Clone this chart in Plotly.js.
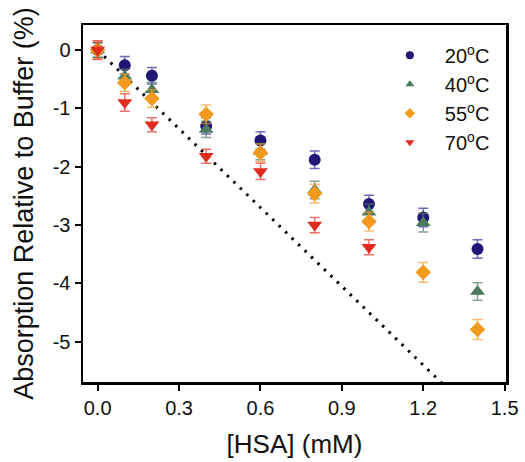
<!DOCTYPE html>
<html>
<head>
<meta charset="utf-8">
<script src="https://cdn.plot.ly/plotly-3.0.1.min.js"></script>
<style>html,body{margin:0;padding:0;background:#fff;}#chart{width:525px;height:462px;}</style>
</head>
<body>
<div id="chart"></div>
<script>
// HSA concentration (mM)
const xConc = [0, 0.1, 0.2, 0.4, 0.6, 0.8, 1.0, 1.2, 1.4];
const xConc70 = [0, 0.1, 0.2, 0.4, 0.6, 0.8, 1.0];

// Absorption relative to buffer (%)
const y20 = [0.0, -0.26, -0.44, -1.30, -1.55, -1.88, -2.64, -2.87, -3.41];
const e20 = [0.13, 0.15, 0.14, 0.14, 0.15, 0.15, 0.15, 0.16, 0.16];
const y40 = [0.0, -0.45, -0.68, -1.36, -1.74, -2.40, -2.78, -2.96, -4.14];
const e40 = [0.12, 0.12, 0.13, 0.14, 0.14, 0.15, 0.14, 0.16, 0.15];
const y55 = [0.0, -0.56, -0.83, -1.10, -1.76, -2.46, -2.94, -3.81, -4.79];
const e55 = [0.15, 0.15, 0.15, 0.16, 0.15, 0.16, 0.16, 0.17, 0.17];
const y70 = [0.0, -0.90, -1.28, -1.82, -2.08, -3.00, -3.38];
const e70 = [0.16, 0.15, 0.12, 0.12, 0.14, 0.13, 0.13];

// reference (dotted) line
const refX = [0, 1.3];
const refY = [0, -5.85];

const seriesNames = ['20<sup>o</sup>C', '40<sup>o</sup>C', '55<sup>o</sup>C', '70<sup>o</sup>C'];
const colors = ['#1f1675', '#4b7a5f', '#f29a1e', '#e02a1f'];
const errColors = ['rgba(50,45,150,0.7)', 'rgba(80,125,100,0.7)', 'rgba(245,160,50,0.7)', 'rgba(230,50,40,0.7)'];
const symbols = ['circle', 'triangle-up', 'diamond', 'triangle-down'];
const sizes = [12, 13, 12, 13];

const xs = [xConc, xConc, xConc, xConc70];
const ys = [y20, y40, y55, y70];
const es = [e20, e40, e55, e70];

const traces = [{
  x: refX, y: refY, mode: 'lines', showlegend: false, hoverinfo: 'skip',
  line: {color: '#000', width: 3, dash: '2.5px,6.5px'}
}];
for (let i = 0; i < 4; i++) {
  traces.push({
    x: xs[i], y: ys[i], mode: 'markers', showlegend: false,
    marker: {symbol: symbols[i], size: sizes[i], color: colors[i], line: {width: 0}},
    error_y: {type: 'data', array: es[i], visible: true, color: errColors[i], thickness: 1.5, width: 5}
  });
}
for (let i = 0; i < 4; i++) {
  traces.push({
    x: [null], y: [null], mode: 'markers', name: seriesNames[i], showlegend: true,
    marker: {symbol: symbols[i], size: 8, color: colors[i], line: {width: 0}}
  });
}

const font = {family: '"Liberation Sans", Arial, sans-serif', color: '#111'};
const layout = {
  width: 525, height: 462,
  margin: {l: 83, r: 19, t: 25, b: 80},
  paper_bgcolor: '#fff', plot_bgcolor: '#fff',
  font: Object.assign({size: 20}, font),
  showlegend: true,
  legend: {x: 0.69, y: 0.97, xanchor: 'left', yanchor: 'top', bgcolor: 'rgba(0,0,0,0)',
           itemwidth: 60, font: Object.assign({size: 20}, font), tracegroupgap: 0},
  xaxis: {
    range: [-0.054, 1.505], showline: true, linewidth: 2.5, linecolor: '#000', mirror: true,
    ticks: 'outside', ticklen: 6, tickwidth: 2, tickcolor: '#000',
    tickvals: [0, 0.3, 0.6, 0.9, 1.2, 1.5], ticktext: ['0.0', '0.3', '0.6', '0.9', '1.2', '1.5'],
    showgrid: false, zeroline: false,
    tickfont: Object.assign({size: 20}, font),
    title: {text: '[HSA] (mM)', font: Object.assign({size: 26}, font), standoff: 18}
  },
  yaxis: {
    range: [-5.69, 0.43], showline: true, linewidth: 2.5, linecolor: '#000', mirror: true,
    ticks: 'outside', ticklen: 6, tickwidth: 2, tickcolor: '#000',
    tickvals: [0, -1, -2, -3, -4, -5], ticktext: ['0', '-1', '-2', '-3', '-4', '-5'],
    showgrid: false, zeroline: false,
    tickfont: Object.assign({size: 20}, font),
    title: {text: 'Absorption Relative to Buffer (%)', font: Object.assign({size: 27}, font), standoff: 12}
  }
};
Plotly.newPlot('chart', traces, layout, {displayModeBar: false, staticPlot: true});
</script>
</body>
</html>
